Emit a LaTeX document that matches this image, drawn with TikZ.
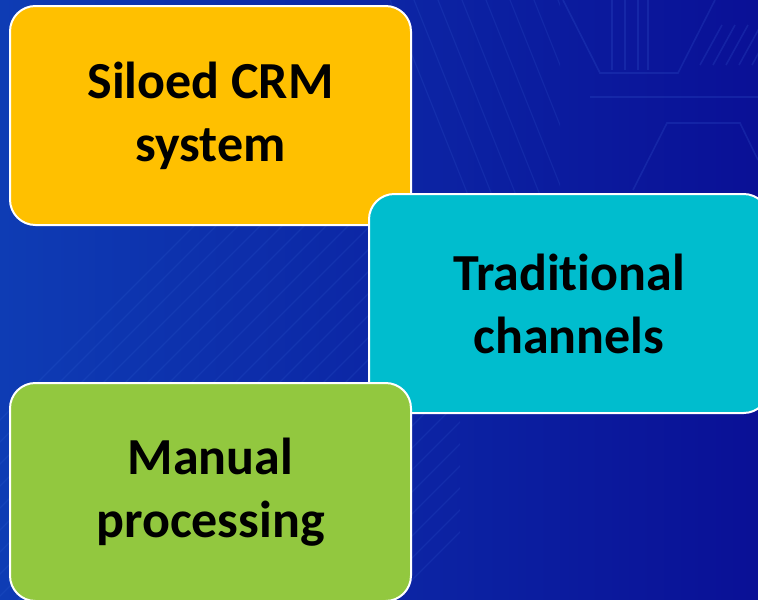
\documentclass[tikz,border=0pt]{standalone}
\usepackage{fontspec}
\setmainfont{Carlito}[Ligatures={NoCommon}]
\usetikzlibrary{shapes.misc}

\definecolor{bgLight}{HTML}{0E3CB4}
\definecolor{bgDark}{HTML}{0A1096}
\definecolor{traceBlue}{HTML}{4A7BEA}
\definecolor{crmYellow}{HTML}{FFC000}
\definecolor{chanTeal}{HTML}{00BDCE}
\definecolor{procGreen}{HTML}{92C83F}

\tikzset{
  card/.style={draw=white, line width=1.5pt, rounded corners=19pt,
    inner sep=0pt, outer sep=0pt, minimum width=300.75pt,
    minimum height=164.25pt, align=center, text=black,
    font=\fontsize{39}{47.25}\selectfont\bfseries},
  trace/.style={draw=traceBlue, line width=1.2pt, opacity=0.16},
  stripe/.style={draw=traceBlue, line width=0.9pt, opacity=0.13}
}

\begin{document}
\begin{tikzpicture}[x=0.75pt, y=-0.75pt]
  \useasboundingbox (0,0) rectangle (758,600);

  % backdrop: blue gradient, lighter on the left
  \shade[left color=bgLight, right color=bgDark] (0,0) rectangle (758,600);

  % faint diagonal stripes on the left half
  \begin{scope}
    \clip (0,180) rectangle (460,600);
    \foreach \k in {0,...,26} {
      \draw[stripe] (-200+\k*22, 620) -- (200+\k*22, 220);
    }
  \end{scope}
  \begin{scope}
    \clip (380,0) rectangle (560,200);
    \foreach \k in {0,...,8} {
      \draw[stripe] (390+\k*24, 0) -- (470+\k*24, 200);
    }
  \end{scope}

  % circuit traces in the upper right
  \draw[trace] (563,0) -- (600,73) -- (678,73) -- (715,0);
  \foreach \xx in {612,625,638,648} {
    \draw[trace] (\xx,0) -- (\xx,70);
  }
  \draw[trace] (590,97) -- (758,97);
  \draw[trace] (633,190) -- (667,123) -- (740,123) -- (758,160);
  \foreach \k in {0,...,4} {
    \draw[trace] (700+\k*13,65) -- (722+\k*13,25);
  }

  % the three cards
  \node[card, fill=crmYellow] (crm) at (210.5,115.5) {Siloed CRM\\system};
  \node[card, fill=chanTeal, minimum width=300pt] (chan) at (569,303.5) {Traditional\\channels};
  \node[card, fill=procGreen, minimum height=163.5pt] (proc) at (210.5,492) {Manual\\processing};
\end{tikzpicture}
\end{document}
